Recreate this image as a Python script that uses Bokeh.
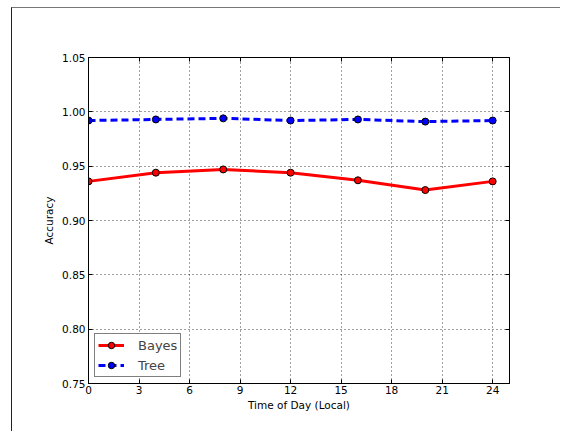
from bokeh.plotting import figure
from bokeh.models import LinearAxis, FixedTicker, Legend, LegendItem, Range1d, CustomJSTickFormatter
from bokeh.embed import file_html
from bokeh.resources import INLINE

hours = [0, 4, 8, 12, 16, 20, 24]
bayes = [0.936, 0.944, 0.947, 0.944, 0.937, 0.928, 0.936]
tree = [0.992, 0.993, 0.994, 0.992, 0.993, 0.991, 0.992]
x_ticks = [0, 3, 6, 9, 12, 15, 18, 21, 24]
y_ticks = [0.75, 0.80, 0.85, 0.90, 0.95, 1.00, 1.05]

FONT = "DejaVu Sans"

p = figure(width=548, height=423, output_backend="svg", toolbar_location=None,
           x_range=Range1d(0, 25), y_range=Range1d(0.75, 1.05),
           frame_width=421, frame_height=326,
           min_border_left=76, min_border_top=49, min_border_right=51, min_border_bottom=48)
p.styles = {"border-left": "1px solid #222", "border-top": "1px solid #777",
            "margin-left": "11px", "margin-top": "7px"}
p.outline_line_color = "black"
p.outline_line_width = 1

for ax in (p.xaxis[0], p.yaxis[0]):
    ax.major_label_text_font = FONT
    ax.major_label_text_font_size = "10.5px"
    ax.major_label_text_color = "black"
    ax.axis_label_text_font = FONT
    ax.axis_label_text_font_size = "10.5px"
    ax.axis_label_text_font_style = "normal"
    ax.axis_label_text_color = "black"
    ax.major_tick_in = 4
    ax.major_tick_out = 0
    ax.minor_tick_line_color = None
    ax.axis_line_color = "black"
    ax.major_tick_line_color = "black"

p.xaxis[0].ticker = FixedTicker(ticks=x_ticks)
p.yaxis[0].ticker = FixedTicker(ticks=y_ticks)
p.xaxis[0].axis_label = "Time of Day (Local)"
p.yaxis[0].axis_label = "Accuracy"
p.xaxis[0].major_label_standoff = 2
p.xaxis[0].axis_label_standoff = 2
p.yaxis[0].major_label_standoff = 3
p.yaxis[0].axis_label_standoff = 4
p.yaxis[0].formatter = CustomJSTickFormatter(code="return tick.toFixed(2);")

for loc, tk in (("right", y_ticks), ("above", x_ticks)):
    ax = LinearAxis(ticker=FixedTicker(ticks=tk),
                    formatter=CustomJSTickFormatter(code="return '';"),
                    major_tick_in=4, major_tick_out=0, minor_tick_line_color=None,
                    axis_line_color="black", major_label_standoff=0)
    p.add_layout(ax, loc)

p.xgrid.ticker = FixedTicker(ticks=x_ticks)
p.ygrid.ticker = FixedTicker(ticks=y_ticks)
for g in (p.xgrid[0], p.ygrid[0]):
    g.grid_line_color = "black"
    g.grid_line_dash = "1 3"
    g.grid_line_width = 1
    g.grid_line_alpha = 0.75

r1 = p.line(hours, bayes, line_color="red", line_width=3)
c1 = p.scatter(hours, bayes, size=7, fill_color="red", line_color="black", line_width=1)
r2 = p.line(hours, tree, line_color="blue", line_width=3, line_dash="7 4")
c2 = p.scatter(hours, tree, size=7, fill_color="blue", line_color="black", line_width=1)

legend = Legend(items=[LegendItem(label="Bayes", renderers=[r1, c1]),
                       LegendItem(label="Tree", renderers=[r2, c2])],
                location="bottom_left")
legend.label_text_font = FONT
legend.label_text_font_size = "13px"
legend.border_line_color = "black"
legend.border_line_width = 1
legend.margin = 6
legend.padding = 3
legend.spacing = 4
legend.glyph_width = 26
legend.glyph_height = 16
legend.label_height = 16
legend.label_standoff = 14
legend.background_fill_alpha = 1
p.add_layout(legend)

open("out.html", "w").write(file_html(p, INLINE))
